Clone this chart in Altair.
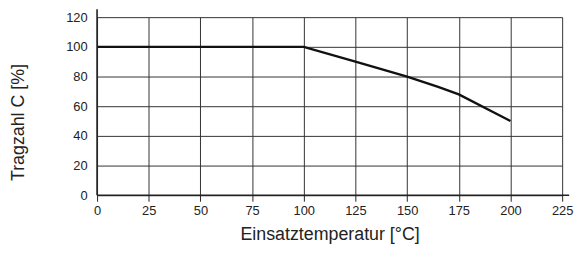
import altair as alt
import pandas as pd

temps = [0, 100, 125, 150, 165, 175, 200]
load = [100, 100, 90, 80, 73, 68, 50]
x_ticks = [0, 25, 50, 75, 100, 125, 150, 175, 200, 225]
y_ticks = [0, 20, 40, 60, 80, 100, 120]

df = pd.DataFrame({"t": temps, "c": load})

FONT = "Liberation Sans"
xs = alt.Scale(domain=[0, 225], nice=False)
ys = alt.Scale(domain=[0, 120], nice=False)

line = alt.Chart(df).mark_line(color="#111", strokeWidth=2.4).encode(
    x=alt.X("t:Q", scale=xs, title="Einsatztemperatur [°C]",
            axis=alt.Axis(values=x_ticks, tickCount=10, labelOverlap=False)),
    y=alt.Y("c:Q", scale=ys, title="Tragzahl C [%]",
            axis=alt.Axis(values=y_ticks, tickCount=7, labelOverlap=False,
                          labelFlush=False, labelBound=False, labelSeparation=0)),
)

yaxis = alt.Chart(pd.DataFrame({"a": [0]})).mark_rule(color="#222", strokeWidth=1.6).encode(
    x=alt.datum(0), y=alt.datum(125.3), y2=alt.datum(0),
)
xaxis = alt.Chart(pd.DataFrame({"a": [0]})).mark_rule(color="#222", strokeWidth=1.6).encode(
    y=alt.datum(0), x=alt.datum(0), x2=alt.datum(228.4),
)

chart = alt.layer(line, yaxis, xaxis).properties(
    width=470, height=180, autosize=alt.AutoSizeParams(type="none"),
    padding={"left": 90, "top": 8, "right": 15, "bottom": 48},
).configure_view(stroke=None).configure_axis(
    grid=True, gridColor="#333", gridOpacity=1, gridWidth=1, domain=False,
    labelFontSize=13, labelFont=FONT, labelColor="#222",
    labelFlush=False, labelOverlap=False, labelBound=False,
    titleFont=FONT, titleFontSize=18, titleFontWeight="normal", titleColor="#222",
).configure_axisX(
    tickSize=6, tickColor="#222", tickWidth=1, labelPadding=3, titlePadding=9,
).configure_axisY(
    ticks=False, labelPadding=10, titleX=-74, titleY=106, titleAngle=-90,
    titleAlign="center", titleBaseline="alphabetic",
)

chart.save("out.html", embed_options={"renderer": "svg", "actions": False})
